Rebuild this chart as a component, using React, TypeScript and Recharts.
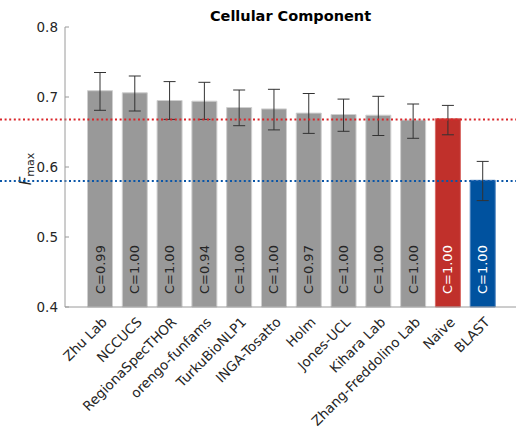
import { BarChart, Bar, XAxis, YAxis, Cell, ErrorBar, LabelList, ReferenceLine } from "recharts";

const methods = [
    "Zhu Lab",
    "NCCUCS",
    "RegionaSpecTHOR",
    "orengo-funfams",
    "TurkuBioNLP1",
    "INGA-Tosatto",
    "Holm",
    "Jones-UCL",
    "Kihara Lab",
    "Zhang-Freddolino Lab",
    "Naive",
    "BLAST",
];
const fmax = [0.709, 0.706, 0.695, 0.694, 0.685, 0.683, 0.677, 0.675, 0.674, 0.667, 0.669, 0.581];
const ciLow = [0.681, 0.68, 0.668, 0.668, 0.659, 0.653, 0.648, 0.651, 0.645, 0.641, 0.646, 0.552];
const ciHigh = [0.735, 0.73, 0.722, 0.721, 0.71, 0.711, 0.705, 0.697, 0.701, 0.69, 0.688, 0.608];
const coverage = ["0.99", "1.00", "1.00", "0.94", "1.00", "1.00", "0.97", "1.00", "1.00", "1.00", "1.00", "1.00"];
const yTicks = [0.4, 0.5, 0.6, 0.7, 0.8];
const naiveLine = 0.668;
const blastLine = 0.58;

const FONT = "'DejaVu Sans', sans-serif";
const GRAY = "#999999";
const RED = "#c0302b";
const BLUE = "#00529f";

const barColor = (name: string) => (name === "Naive" ? RED : name === "BLAST" ? BLUE : GRAY);
const edgeColor = (name: string) => (name === "Naive" ? "#d86a66" : name === "BLAST" ? "#4a80bd" : "#cfcfcf");

const data = methods.map((name, i) => ({
    name,
    fmax: fmax[i],
    err: [fmax[i] - ciLow[i], ciHigh[i] - fmax[i]],
    c: "C=" + coverage[i],
}));

const XTick = (props: any) => {
    const { x, y, payload } = props;
    const tx = x + 8;
    const ty = y + 8;
    return (
        <text
            x={tx}
            y={ty}
            transform={`rotate(-45 ${tx} ${ty})`}
            textAnchor="end"
            fontSize={13.5}
            fill="#262626"
            fontFamily={FONT}
        >
            {payload.value}
        </text>
    );
};

const InsideLabel = (props: any) => {
    const vb = props.viewBox || {};
    const x = props.x ?? vb.x;
    const y = props.y ?? vb.y;
    const w = props.width ?? vb.width;
    const h = props.height ?? vb.height;
    const name = methods[props.index];
    const cx = x + w / 2;
    const by = y + h - 13;
    return (
        <text
            x={cx}
            y={by}
            transform={`rotate(-90 ${cx} ${by})`}
            textAnchor="start"
            dominantBaseline="central"
            fontSize={13}
            fontFamily={FONT}
            fill={name === "Naive" || name === "BLAST" ? "#ffffff" : "#262626"}
        >
            {props.value}
        </text>
    );
};

const dotted = (color: string) => (p: any) => (
    <line x1={0} x2={p.x2} y1={p.y1} y2={p.y2} stroke={color} strokeWidth={2} strokeDasharray="2 2.6" />
);

export default function App() {
    return (
        <div style={{ position: "absolute", left: 0, top: 0, width: 516, height: 432, background: "#fff" }}>
            <div
                style={{
                    position: "absolute",
                    left: 65,
                    width: 451,
                    top: 8,
                    textAlign: "center",
                    fontFamily: FONT,
                    fontWeight: "bold",
                    fontSize: 14.5,
                    color: "#000",
                }}
            >
                Cellular Component
            </div>
            <svg width={40} height={432} style={{ position: "absolute", left: 0, top: 0 }}>
                <text x={31} y={169} transform="rotate(-90 31 169)" textAnchor="middle" fontFamily={FONT} fill="#262626">
                    <tspan fontStyle="italic" fontSize={15}>F</tspan>
                    <tspan fontSize={11} dy={3}>max</tspan>
                </text>
            </svg>
            <BarChart
                width={516}
                height={432}
                data={data}
                margin={{ top: 27, right: 0, bottom: 0, left: 0 }}
                style={{ position: "absolute", left: 0, top: 0 }}
            >
                <XAxis
                    dataKey="name"
                    interval={0}
                    height={125}
                    tick={<XTick />}
                    tickLine={false}
                    axisLine={{ stroke: "#9a9a9a" }}
                    padding={{ left: 17.5, right: 16 }}
                />
                <YAxis
                    domain={[0.4, 0.8]}
                    ticks={yTicks}
                    width={65}
                    tickSize={-4}
                    tickMargin={11}
                    tickLine={{ stroke: "#9a9a9a" }}
                    axisLine={{ stroke: "#9a9a9a" }}
                    tick={{ fontSize: 13.5, fill: "#262626", fontFamily: FONT }}
                    tickFormatter={(v: number) => v.toFixed(1)}
                />
                <Bar dataKey="fmax" barSize={25} isAnimationActive={false}>
                    {data.map((d) => (
                        <Cell key={d.name} fill={barColor(d.name)} stroke={edgeColor(d.name)} strokeWidth={1} />
                    ))}
                    <LabelList dataKey="c" content={<InsideLabel />} />
                    <ErrorBar dataKey="err" width={6} stroke="#333333" strokeWidth={1} direction="y" />
                </Bar>
                <ReferenceLine y={naiveLine} shape={dotted("#d9262a")} />
                <ReferenceLine y={blastLine} shape={dotted("#0a56a8")} />
            </BarChart>
        </div>
    );
}
